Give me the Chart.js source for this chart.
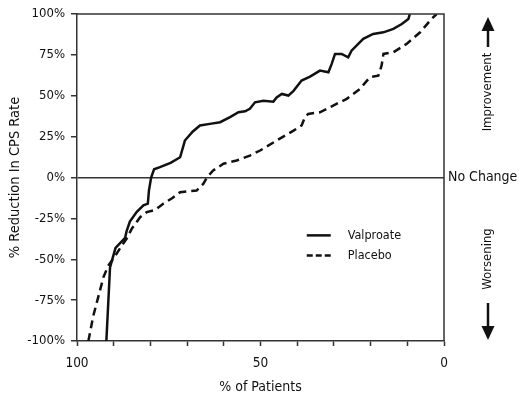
<!DOCTYPE html>
<html>
<head>
<meta charset="utf-8">
<script src="https://cdn.jsdelivr.net/npm/chart.js@4.4.1/dist/chart.umd.min.js"></script>
<style>
  html, body { margin: 0; padding: 0; background: #fff; }
  #wrap { width: 519px; height: 397px; position: relative; }
</style>
</head>
<body>
<div id="wrap"><canvas id="c" width="519" height="397"></canvas></div>
<script>
// ---- data ----
const seriesNames = ["Valproate", "Placebo"];
const valproatePct = [92.0, 91.0, 89.5, 86.9, 86.5, 85.6, 83.7, 81.9, 80.7, 80.4, 79.8, 79.0, 77.4, 74.5, 71.9, 70.6, 68.5, 66.5, 63.8, 61.0, 58.3, 56.0, 54.2, 52.9, 51.5, 49.2, 46.5, 45.6, 44.2, 42.4, 41.0, 38.8, 36.5, 33.8, 31.5, 30.6, 29.7, 27.9, 26.1, 25.2, 22.0, 19.3, 16.5, 13.8, 11.5, 9.7, 9.3];
const valproateRed = [-100, -55, -43, -37, -33, -27, -21, -17, -16, -8, 0, 5, 6.3, 9, 12.4, 22.6, 28, 31.8, 32.8, 33.8, 36.9, 39.9, 40.5, 42, 46, 47, 46.4, 49, 51.1, 50.1, 53, 59.3, 61.7, 65.4, 64.4, 69.5, 75.6, 75.6, 73.5, 77.6, 84.8, 87.8, 88.8, 90.9, 93.9, 97, 100];
const placeboPct = [96.9, 95.6, 94.2, 92.8, 91.5, 89.6, 87.8, 86.5, 85.1, 82.8, 81.0, 78.7, 76.5, 74.0, 71.9, 67.4, 65.6, 64.6, 62.9, 60.1, 56.5, 52.9, 50.1, 45.6, 41.0, 38.8, 37.9, 37.0, 33.8, 30.2, 26.5, 22.9, 20.2, 17.9, 17.0, 16.5, 13.8, 10.2, 6.5, 3.4, 2.0];
const placeboRed = [-100, -85, -73, -61, -54, -48, -41.6, -37.5, -31.4, -24.3, -21.2, -19.8, -16, -12.5, -9, -8, -3.9, 0, 4.3, 8.4, 10.4, 13.4, 16.5, 22.6, 28.7, 31.8, 36.9, 38.9, 39.9, 44, 48.1, 54.2, 61.3, 62.3, 68.5, 75.6, 76.6, 81.7, 88.8, 97, 100];
const yTickValues = [-100, -75, -50, -25, 0, 25, 50, 75, 100];
const xTickLabels = [100, 50, 0];
const yTitle = "% Reduction In CPS Rate";
const xTitle = "% of Patients";
const sideLabels = { up: "Improvement", mid: "No Change", down: "Worsening" };

const FONT = "'DejaVu Sans Condensed', 'Liberation Sans', sans-serif";
const INK = '#111';

function pts(xs, ys) { return xs.map((x, i) => ({ x: x, y: ys[i] })); }

const decorPlugin = {
  id: 'decor',
  afterDraw(chart) {
    const ctx = chart.ctx;
    const a = chart.chartArea;
    const ys = chart.scales.y;
    ctx.save();
    // frame top & right
    ctx.strokeStyle = '#333';
    ctx.lineWidth = 1.5;
    ctx.beginPath();
    ctx.moveTo(a.left, a.top);
    ctx.lineTo(a.right, a.top);
    ctx.lineTo(a.right, a.bottom);
    ctx.stroke();

    // legend
    const lx = a.left + (a.right - a.left) * 0.626;
    const ly1 = a.top + (a.bottom - a.top) * 0.677;
    const ly2 = ly1 + 20;
    ctx.strokeStyle = INK;
    ctx.lineWidth = 2.5;
    ctx.setLineDash([]);
    ctx.beginPath(); ctx.moveTo(lx, ly1); ctx.lineTo(lx + 24, ly1); ctx.stroke();
    ctx.setLineDash([6, 3]);
    ctx.beginPath(); ctx.moveTo(lx, ly2); ctx.lineTo(lx + 24, ly2); ctx.stroke();
    ctx.setLineDash([]);
    ctx.fillStyle = INK;
    ctx.font = "12.5px " + FONT;
    ctx.textAlign = 'left';
    ctx.textBaseline = 'middle';
    ctx.fillText(seriesNames[0], lx + 41, ly1);
    ctx.fillText(seriesNames[1], lx + 41, ly2);

    // right side annotations
    const y0 = ys.getPixelForValue(0);
    ctx.font = "14px " + FONT;
    ctx.textAlign = 'left';
    ctx.fillText(sideLabels.mid, a.right + 4, y0);

    const ax = a.right + 44;
    ctx.font = "13px " + FONT;
    ctx.save();
    ctx.translate(ax, a.top + 78);
    ctx.rotate(-Math.PI / 2);
    ctx.textAlign = 'center';
    ctx.fillText(sideLabels.up, 0, 0);
    ctx.restore();
    ctx.save();
    ctx.translate(ax, a.top + 245);
    ctx.rotate(-Math.PI / 2);
    ctx.textAlign = 'center';
    ctx.fillText(sideLabels.down, 0, 0);
    ctx.restore();

    // arrows
    ctx.lineWidth = 2.5;
    ctx.strokeStyle = INK;
    ctx.beginPath(); ctx.moveTo(ax, a.top + 33); ctx.lineTo(ax, a.top + 14); ctx.stroke();
    ctx.beginPath();
    ctx.moveTo(ax, a.top + 3); ctx.lineTo(ax - 6.5, a.top + 17); ctx.lineTo(ax + 6.5, a.top + 17); ctx.closePath(); ctx.fill();
    ctx.beginPath(); ctx.moveTo(ax, a.bottom - 38); ctx.lineTo(ax, a.bottom - 14); ctx.stroke();
    ctx.beginPath();
    ctx.moveTo(ax, a.bottom - 1); ctx.lineTo(ax - 6.5, a.bottom - 15); ctx.lineTo(ax + 6.5, a.bottom - 15); ctx.closePath(); ctx.fill();
    ctx.restore();
  }
};

new Chart(document.getElementById('c'), {
  type: 'line',
  data: {
    datasets: [
      { label: seriesNames[0], data: pts(valproatePct, valproateRed), borderColor: INK, borderWidth: 2.5, pointRadius: 0, tension: 0, fill: false },
      { label: seriesNames[1], data: pts(placeboPct, placeboRed), borderColor: INK, borderWidth: 2.5, borderDash: [8, 5], pointRadius: 0, tension: 0, fill: false }
    ]
  },
  options: {
    responsive: false,
    animation: false,
    devicePixelRatio: 1,
    layout: { padding: { top: 14, right: 75, left: 0, bottom: 0 } },
    plugins: { legend: { display: false }, tooltip: { enabled: false } },
    scales: {
      x: {
        type: 'linear', reverse: true, min: 0, max: 100,
        afterFit(s) { s.height = 56; },
        ticks: {
          stepSize: 10, autoSkip: false, maxRotation: 0,
          color: INK, font: { family: FONT, size: 13.5 }, padding: 9,
          callback: (v) => xTickLabels.includes(v) ? String(v) : ''
        },
        grid: { drawOnChartArea: false, drawTicks: true, tickLength: 5, tickColor: '#333', tickWidth: 1.5 },
        border: { display: true, color: '#333', width: 1.5 },
        title: { display: true, text: xTitle, color: INK, font: { family: FONT, size: 14 }, padding: { top: 3, bottom: 1 } }
      },
      y: {
        type: 'linear', min: -100, max: 100,
        afterFit(s) { s.width = 77; },
        afterBuildTicks(s) { s.ticks = yTickValues.map(v => ({ value: v })); },
        ticks: {
          color: INK, font: { family: FONT, size: 13 }, padding: 6,
          callback: (v) => v + '%'
        },
        grid: {
          drawOnChartArea: true, drawTicks: true, tickLength: 6, tickWidth: 1.5,
          tickColor: '#333',
          color: (c) => (c.tick && c.tick.value === 0) ? '#333' : 'rgba(0,0,0,0)',
          lineWidth: 1.5
        },
        border: { display: true, color: '#333', width: 1.5 },
        title: { display: true, text: yTitle, color: INK, font: { family: FONT, size: 14.5 }, padding: { top: 7, bottom: 6 } }
      }
    }
  },
  plugins: [decorPlugin]
});
</script>
</body>
</html>
